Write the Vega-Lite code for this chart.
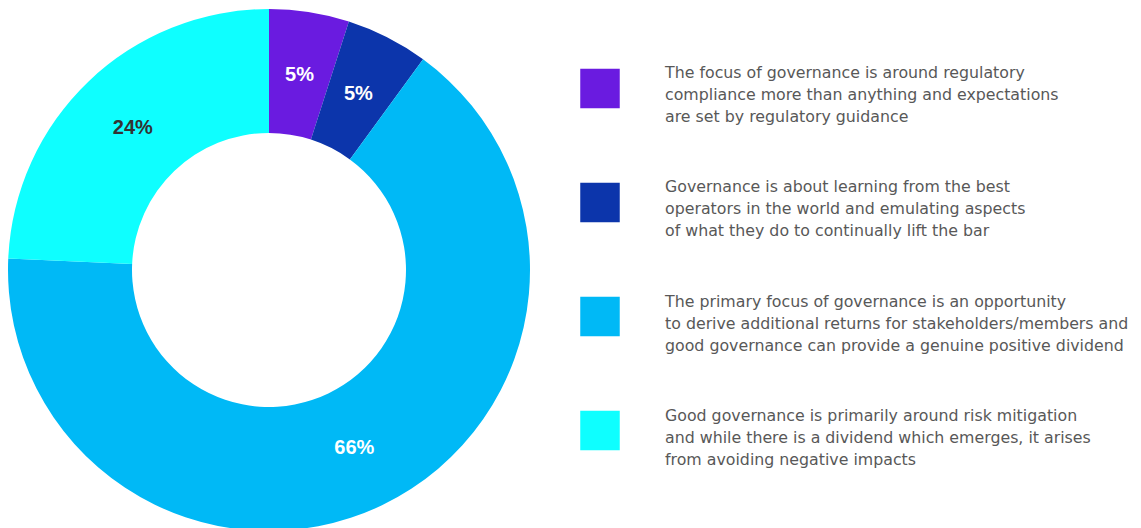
{
  "$schema": "https://vega.github.io/schema/vega-lite/v6.json",
  "padding": 0,
  "background": "#ffffff",
  "config": {"view": {"stroke": null}},
  "data": {"values": [
    {"order": 1, "category": "Regulatory compliance", "value": 4.95, "label": "5%", "lines": ["The focus of governance is around regulatory", "compliance more than anything and expectations", "are set by regulatory guidance"]},
    {"order": 2, "category": "Learning from the best", "value": 5.1, "label": "5%", "lines": ["Governance is about learning from the best", "operators in the world and emulating aspects", "of what they do to continually lift the bar"]},
    {"order": 3, "category": "Opportunity for returns", "value": 65.65, "label": "66%", "lines": ["The primary focus of governance is an opportunity", "to derive additional returns for stakeholders/members and", "good governance can provide a genuine positive dividend"]},
    {"order": 4, "category": "Risk mitigation", "value": 24.3, "label": "24%", "lines": ["Good governance is primarily around risk mitigation", "and while there is a dividend which emerges, it arises", "from avoiding negative impacts"]}
  ]},
  "hconcat": [
    {
      "width": 538,
      "height": 540,
      "encoding": {
        "theta": {"field": "value", "type": "quantitative", "stack": true},
        "order": {"field": "order", "type": "quantitative"}
      },
      "layer": [
        {
          "mark": {"type": "arc", "innerRadius": 137, "outerRadius": 261},
          "encoding": {
            "color": {
              "field": "category", "type": "nominal", "legend": null,
              "scale": {
                "domain": ["Regulatory compliance", "Learning from the best", "Opportunity for returns", "Risk mitigation"],
                "range": ["#6A1BE0", "#0C35AB", "#00B9F6", "#0EFFFF"]
              }
            }
          }
        },
        {
          "mark": {"type": "text", "radius": 197, "font": "Liberation Sans", "fontSize": 20, "fontWeight": "bold", "align": "center", "baseline": "middle"},
          "encoding": {
            "text": {"field": "label", "type": "nominal"},
            "color": {
              "condition": {"test": "datum.order == 4", "value": "#333333"},
              "value": "#ffffff"
            }
          }
        }
      ]
    },
    {
      "width": 40,
      "height": 519,
      "encoding": {
        "y": {"field": "order", "type": "ordinal", "axis": null, "scale": {"type": "point", "padding": 0.776}}
      },
      "layer": [
        {
          "mark": {"type": "square", "size": 1560, "filled": true, "opacity": 1},
          "encoding": {
            "color": {
              "field": "category", "type": "nominal", "legend": null,
              "scale": {
                "domain": ["Regulatory compliance", "Learning from the best", "Opportunity for returns", "Risk mitigation"],
                "range": ["#6A1BE0", "#0C35AB", "#00B9F6", "#0EFFFF"]
              }
            }
          }
        },
        {
          "mark": {"type": "text", "align": "left", "baseline": "middle", "dx": 65, "dy": -15, "font": "DejaVu Sans", "fontSize": 15.8, "lineHeight": 22, "color": "#585858"},
          "encoding": {
            "text": {"field": "lines"}
          }
        }
      ]
    }
  ],
  "spacing": 42
}
